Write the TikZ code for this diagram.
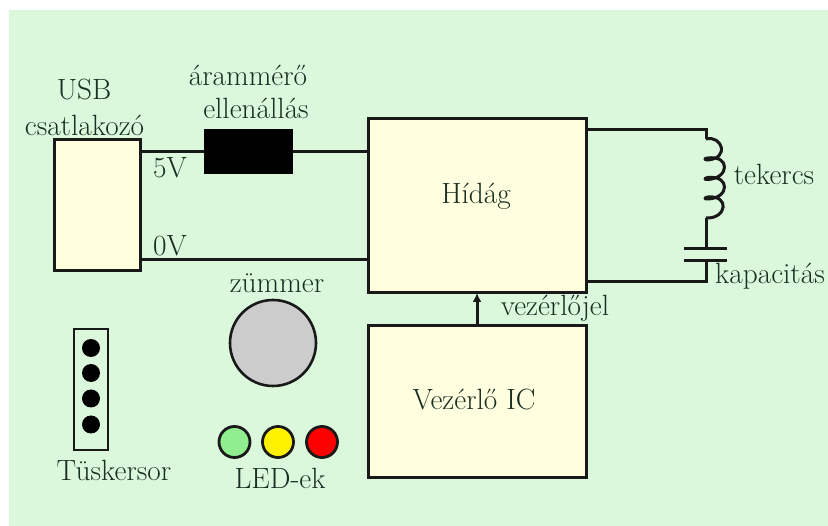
\documentclass[tikz,border=0pt]{standalone}
\usepackage{fontspec}
\usetikzlibrary{arrows.meta}
\setmainfont{Latin Modern Roman}
\definecolor{bggreen}{HTML}{DBF8DD}
\definecolor{boxyellow}{HTML}{FFFFE0}
\definecolor{labelcol}{HTML}{1A2E22}
\definecolor{ledgreen}{HTML}{90EE90}
\tikzset{
  x=1pt,y=-1pt,
  wire/.style={line width=3pt,draw=black!90},
  blockbox/.style={draw=black!90,line width=3pt,fill=boxyellow,inner sep=0pt,outer sep=0pt},
  lab/.style={text=labelcol,font=\fontsize{29.3}{32}\selectfont,inner sep=0pt,anchor=center},
  led/.style={circle,draw=black!90,line width=2.8pt,minimum size=31pt,inner sep=0pt},
  pin/.style={circle,fill=black,minimum size=18pt,inner sep=0pt},
}
\begin{document}
\begin{tikzpicture}
\useasboundingbox (0,0) rectangle (828,526);
\fill[white] (0,0) rectangle (828,526);
\fill[bggreen] (9,10) rectangle (828,526);
% boxes
\node[blockbox,minimum width=86pt,minimum height=131pt] (usb) at (97,205.5) {};
\node[draw=black,fill=black,line width=1pt,minimum width=88pt,minimum height=44pt,inner sep=0pt,outer sep=0pt] (res) at (248.5,151.5) {};
\node[blockbox,minimum width=218pt,minimum height=174pt] (bridge) at (477,206) {};
\node[blockbox,minimum width=218pt,minimum height=152pt] (ic) at (477,402) {};
% coordinates on the wires
\coordinate (usb5) at (140,152);
\coordinate (res5) at (204,152);
\coordinate (resout) at (293,152);
\coordinate (br5) at (368,152);
\coordinate (usb0) at (140,260);
\coordinate (br0) at (368,260);
\coordinate (brtop) at (586,130);
\coordinate (cornertop) at (706,130);
\coordinate (coila) at (706,139);
\coordinate (coilb) at (706,218);
\coordinate (plateaL) at (684,249);
\coordinate (plateaR) at (727,249);
\coordinate (platebL) at (684,261);
\coordinate (platebR) at (727,261);
\coordinate (platea) at (706,249);
\coordinate (plateb) at (706,261);
\coordinate (cornerbot) at (706,282);
\coordinate (brbot) at (586,282);
% wires
\draw[wire] (usb5) -- (res5);
\draw[wire] (resout) -- (br5);
\draw[wire] (usb0) -- (br0);
\draw[wire,line join=miter] (brtop) -- (cornertop) -- (coila);
\draw[wire,line join=round] (coila)
  .. controls (722,135) and (730,158) .. (708,160)
  .. controls (704,160) and (704,158) .. (708,158)
  .. controls (730,155) and (730,178) .. (708,179.5)
  .. controls (704,180) and (704,178) .. (708,177.5)
  .. controls (730,175) and (730,198) .. (708,199)
  .. controls (704,199.5) and (704,197.5) .. (708,197)
  .. controls (730,195) and (727,219) .. (coilb);
\draw[wire] (coilb) -- (platea);
\draw[wire] (plateaL) -- (plateaR);
\draw[wire] (platebL) -- (platebR);
\draw[wire,line join=miter] (plateb) -- (cornerbot) -- (brbot);
\draw[wire,-{Latex[length=9pt,width=9pt]}] (ic.north) -- (bridge.south);
% buzzer
\node[circle,draw=black!90,line width=2.6pt,fill=black!20,minimum size=86pt,inner sep=0pt] (buzzer) at (273,343) {};
% pin header
\node[draw=black!90,line width=2.6pt,fill=none,minimum width=34pt,minimum height=121pt,inner sep=0pt] (header) at (91,389.5) {};
\node[pin] (p1) at (91,348) {};
\node[pin] (p2) at (91,373) {};
\node[pin] (p3) at (91,398.5) {};
\node[pin] (p4) at (91,424.5) {};
% LEDs
\node[led,fill=ledgreen] (l1) at (234.5,442) {};
\node[led,fill=yellow] (l2) at (278,442) {};
\node[led,fill=red] (l3) at (322,442) {};
% labels
\node[lab] (t1) at (84,89) {USB};
\node[lab] (t2) at (84.5,125) {csatlakozó};
\node[lab] (t3) at (248,75) {árammérő};
\node[lab] (t4) at (256,108) {ellenállás};
\node[lab] (t5) at (170,168) {5V};
\node[lab] (t6) at (170,246) {0V};
\node[lab] (t7) at (277,283) {zümmer};
\node[lab] (t8) at (476,196) {Hídág};
\node[lab] (t9) at (474,399) {Vezérlő IC};
\node[lab] (t10) at (555,308) {vezérlőjel};
\node[lab] (t11) at (774,174) {tekercs};
\node[lab] (t12) at (770,276) {kapacitás};
\node[lab] (t13) at (114,470) {Tüskersor};
\node[lab] (t14) at (280,478) {LED-ek};
\end{tikzpicture}
\end{document}
